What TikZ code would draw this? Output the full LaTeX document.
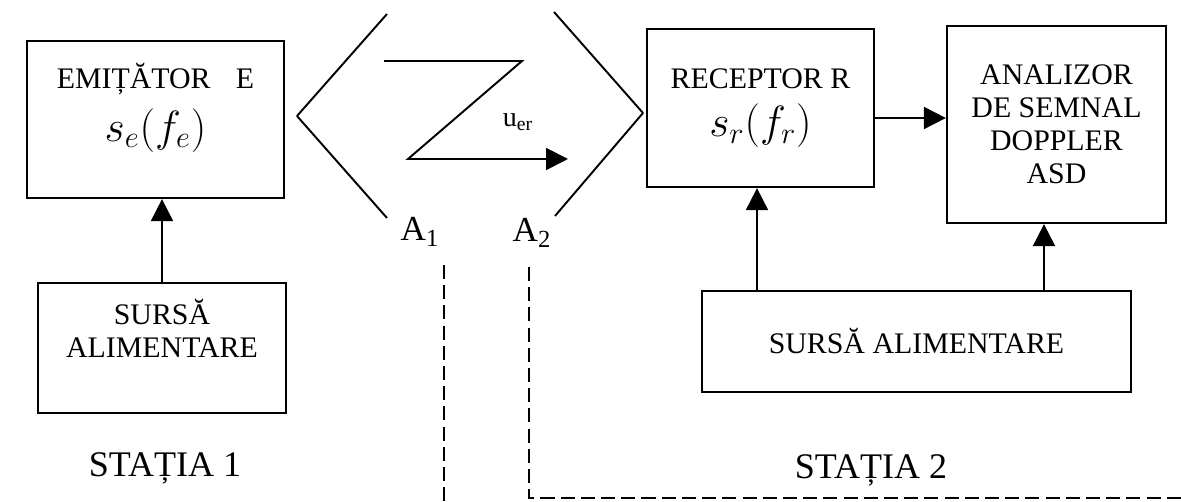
\documentclass[tikz,border=0pt]{standalone}
\usepackage{fontspec}
\setmainfont{Liberation Serif}
\usepackage{tikz}
\usetikzlibrary{arrows.meta,positioning,calc}

\newcommand{\bigmath}[1]{{\fontsize{23}{25}\selectfont $#1$}}

\begin{document}
\begin{tikzpicture}[x=0.02cm, y=-0.02cm,
        every node/.style={font=\fontsize{17}{18.7}\selectfont},
        blk/.style={draw, line width=1.3pt, align=center, inner sep=0pt},
        sig/.style={-{Triangle[length=12.5pt,width=12.5pt]}, line width=1.1pt},
        ant/.style={line width=1.1pt, line join=round},
        bnd/.style={line width=0.9pt, dash pattern=on 8pt off 3.5pt},
        lbl/.style={font=\fontsize{20}{22}\selectfont, inner sep=0pt}
    ]
    \useasboundingbox (0,0) rectangle (1181,502);

    % ================= statia 1 =================
    \node[blk, minimum width=5.14cm, minimum height=3.14cm] (emit) at (155.5,119.5)
    {EMIȚĂTOR\hspace{0.85em}E\\[7pt] \bigmath{s_e\bigl(f_e\bigr)}\\[1pt]};
    \node[blk, minimum width=4.96cm, minimum height=2.6cm] (src1) at (162,348)
    {SURSĂ\\ALIMENTARE\\[4pt]};
    \draw[sig] (src1.north) -- (src1.north |- emit.south);
    \node[lbl, font=\fontsize{20.5}{22}\selectfont] (st1) at (165,468) {STAȚIA 1};

    % ================= antene si unda =================
    \draw[ant] (387,14) -- (297,116) -- (387,218);
    \draw[ant] (554,12) -- (643,113) -- (555,216);
    \draw[sig] (384,61) -- (522,61) -- (408,159) -- (568,159);
    \node[inner sep=0pt, font=\fontsize{16}{16}\selectfont] (uer) at (518,122) {u\textsubscript{er}};
    \node[lbl] (a1) at (420,232) {A\textsubscript{1}};
    \node[lbl] (a2) at (532,233) {A\textsubscript{2}};

    % ================= statia 2 =================
    \node[blk, minimum width=4.54cm, minimum height=3.16cm] (recv) at (760.5,108)
    {RECEPTOR R\\[8pt] \bigmath{s_r\bigl(f_r\bigr)}};
    \node[blk, minimum width=4.38cm, minimum height=3.94cm] (anal) at (1056.5,124.5)
    {ANALIZOR\\DE SEMNAL\\DOPPLER\\ASD};
    \node[blk, minimum width=8.58cm, minimum height=2.02cm] (src2) at (916.5,341.5)
    {SURSĂ ALIMENTARE};
    \draw[sig] ([yshift=-0.2cm]recv.east) -- ([yshift=-0.2cm]recv.east -| anal.west);
    \draw[sig] ([xshift=-0.07cm]src2.north -| recv.south) -- ([xshift=-0.07cm]recv.south);
    \draw[sig] ([xshift=-0.25cm]anal.south |- src2.north) -- ([xshift=-0.25cm]anal.south);
    \node[lbl, font=\fontsize{20.5}{22}\selectfont] (st2) at (871,470) {STAȚIA 2};

    % ================= limite statii =================
    \draw[bnd] (444,265) -- (444,502);
    \draw[bnd] (529,267) -- (529,498) -- (1181,498);

\end{tikzpicture}
\end{document}
